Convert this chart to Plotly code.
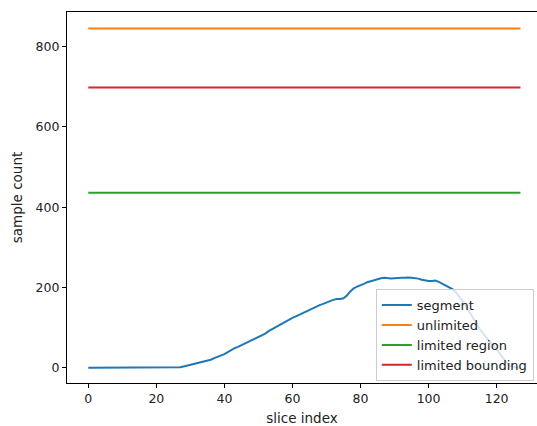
import plotly.graph_objects as go

slice_index = list(range(128))
segment = [0] * 27 + [
    1, 3, 5, 7, 9, 11, 14, 16, 18, 20,          # 27-36
    24, 27, 30, 34, 39, 45, 49, 52, 56, 60,     # 37-46
    64, 68, 72, 76, 80, 85, 91, 96, 100, 104,   # 47-56
    109, 114, 119, 124, 128, 132, 137, 141, 145, 148,  # 57-66
    152, 156, 159, 163, 166, 169, 171, 171, 173, 180,  # 67-76
    190, 198, 202, 205, 209, 213, 216, 218, 221, 223,  # 77-86
    224, 223, 222, 223, 224, 224, 224, 225, 224, 223,  # 87-96
    222, 219, 217, 216, 216, 217, 214, 210, 206, 202,  # 97-106
    196, 188, 178, 166, 153, 140, 126, 111, 97, 85,    # 107-116
    74, 64, 55, 46, 34, 22, 12, 5, 2, 0, 0,            # 117-127
]
unlimited_value = 845
limited_region_value = 436
limited_bounding_value = 698

series = [
    ("segment", segment, "#1f77b4"),
    ("unlimited", [unlimited_value] * 128, "#ff7f0e"),
    ("limited region", [limited_region_value] * 128, "#2ca02c"),
    ("limited bounding", [limited_bounding_value] * 128, "#d62728"),
]

x_ticks = [0, 20, 40, 60, 80, 100, 120]
y_ticks = [0, 200, 400, 600, 800]

fig = go.Figure()
for name, vals, color in series:
    fig.add_trace(go.Scatter(x=slice_index, y=vals, mode="lines", name=name,
                             line=dict(color=color, width=2)))

font = dict(family="DejaVu Sans", size=12.5, color="#222222")
title_font = dict(family="DejaVu Sans", size=13.5, color="#222222")
fig.update_layout(
    width=537, height=426,
    margin=dict(l=67, r=0, t=12, b=43),
    plot_bgcolor="white", paper_bgcolor="white",
    font=font,
    showlegend=True,
    legend=dict(x=0.657, y=0.253, xanchor="left", yanchor="top",
                bgcolor="rgba(255,255,255,0.8)", bordercolor="#cccccc", borderwidth=1,
                font=dict(family="DejaVu Sans", size=13, color="#222222"),
                tracegroupgap=0),
    xaxis=dict(range=[-6.25, 131.86], tickvals=x_ticks, showgrid=False, zeroline=False,
               showline=True, linecolor="black", linewidth=1.2, mirror=True,
               ticks="outside", ticklen=4, tickcolor="black",
               title=dict(text="slice index", standoff=9, font=title_font)),
    yaxis=dict(range=[-38, 886], tickvals=y_ticks, showgrid=False, zeroline=False,
               showline=True, linecolor="black", linewidth=1.2,
               ticks="outside", ticklen=4, tickcolor="black",
               title=dict(text="sample count", standoff=9, font=title_font)),
)

fig.write_html("out.html")
